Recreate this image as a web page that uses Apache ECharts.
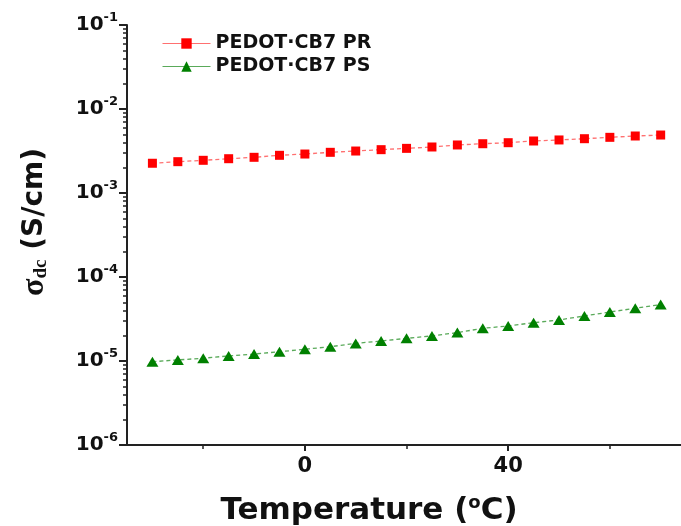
<!DOCTYPE html>
<html>
<head>
<meta charset="utf-8">
<script src="https://cdn.jsdelivr.net/npm/echarts@6/dist/echarts.min.js"></script>
<style>html,body{margin:0;padding:0;background:#fff;}#c{width:681px;height:526px;}</style>
</head>
<body>
<div id="c"></div>
<script>
const temperatures = [-30,-25,-20,-15,-10,-5,0,5,10,15,20,25,30,35,40,45,50,55,60,65,70];
const prValues = [2.26e-3,2.36e-3,2.45e-3,2.56e-3,2.66e-3,2.81e-3,2.91e-3,3.05e-3,3.16e-3,3.28e-3,3.40e-3,3.53e-3,3.73e-3,3.86e-3,3.97e-3,4.16e-3,4.28e-3,4.43e-3,4.60e-3,4.77e-3,4.90e-3];
const psValues = [9.8e-6,1.03e-5,1.08e-5,1.15e-5,1.21e-5,1.29e-5,1.38e-5,1.48e-5,1.62e-5,1.73e-5,1.86e-5,1.99e-5,2.18e-5,2.45e-5,2.61e-5,2.86e-5,3.08e-5,3.44e-5,3.83e-5,4.24e-5,4.70e-5];
const seriesNames = ['PEDOT·CB7 PR','PEDOT·CB7 PS'];
const xMajorTicks = [0,40];
const xMinorTicks = [-20,20,60];
const yMinorTicks = [];
for (let e = -6; e < -1; e++) { for (let m = 2; m <= 9; m++) yMinorTicks.push(m * Math.pow(10, e)); }

const font = 'DejaVu Sans';
const chart = echarts.init(document.getElementById('c'), null, {renderer:'canvas'});
const pair = (a) => temperatures.map((t,i) => [t, a[i]]);
chart.setOption({
  animation: false,
  backgroundColor: '#fff',
  grid: {left: 127, right: 0, top: 25, bottom: 81, containLabel: false, outerBoundsMode: 'none'},
  legend: {
    orient: 'vertical', left: 157, top: 29, itemWidth: 48, itemHeight: 13, itemGap: 4,
    textStyle: {fontFamily: font, fontWeight: 'bold', fontSize: 19, color: '#111'},
    lineStyle: {type: 'solid', width: 1},
    data: seriesNames
  },
  xAxis: [{
    type: 'value', min: -35, max: 74,
    axisLine: {show: true, onZero: false, lineStyle: {color: '#222', width: 2}},
    axisTick: {show: true, customValues: xMajorTicks, length: 6, lineStyle: {width: 2, color: '#222'}},
    axisLabel: {customValues: xMajorTicks, margin: 11, fontFamily: font, fontWeight: 'bold', fontSize: 21, color: '#111'},
    splitLine: {show: false},
    name: 'Temperature ({s|o}C)', nameLocation: 'middle', nameGap: 49,
    nameTextStyle: {fontFamily: font, fontWeight: 'bold', fontSize: 31, color: '#111', padding: [0, 70, 0, 0],
      rich: {s: {fontFamily: font, fontSize: 18, fontWeight: 'bold', color: '#111', padding: [0, 0, 16, 0]}}}
  }, {
    type: 'value', min: -35, max: 74, position: 'bottom',
    axisLine: {show: false, onZero: false},
    axisTick: {show: true, customValues: xMinorTicks, length: 4, lineStyle: {width: 1.5, color: '#222'}},
    axisLabel: {show: false}, splitLine: {show: false}
  }],
  yAxis: [{
    type: 'log', logBase: 10, min: 1e-6, max: 1e-1, position: 'left',
    axisLine: {show: true, onZero: false, lineStyle: {color: '#222', width: 2}},
    axisTick: {show: true, length: 8, lineStyle: {width: 2, color: '#222'}},
    axisLabel: {
      margin: 9,
      formatter: (v) => '{b|10}{s|' + Math.round(Math.log10(v)) + '}',
      rich: {
        b: {fontFamily: font, fontWeight: 'bold', fontSize: 20, color: '#111'},
        s: {fontFamily: font, fontWeight: 'bold', fontSize: 13, color: '#111', padding: [0, 0, 14, 0]}
      }
    },
    splitLine: {show: false},
    name: '{sig|σ}{sub|dc}{n| (S/cm)}', nameLocation: 'middle', nameRotate: 90, nameGap: 76,
    nameTextStyle: {padding: [0, 0, 0, 26],
      rich: {
        sig: {fontFamily: 'Liberation Serif', fontWeight: 'bold', fontSize: 32, color: '#111'},
        sub: {fontFamily: 'Liberation Serif', fontWeight: 'bold', fontSize: 19, color: '#111', padding: [12, 0, 0, 0]},
        n: {fontFamily: font, fontWeight: 'bold', fontSize: 28, color: '#111'}
      }}
  }, {
    type: 'log', logBase: 10, min: 1e-6, max: 1e-1, position: 'left',
    axisLine: {show: false, onZero: false},
    axisTick: {show: true, customValues: yMinorTicks, length: 4, lineStyle: {width: 1.5, color: '#222'}},
    axisLabel: {show: false}, splitLine: {show: false}
  }],
  series: [{
    name: seriesNames[0], type: 'line', xAxisIndex: 0, yAxisIndex: 0,
    data: pair(prValues), symbol: 'rect', symbolSize: 9,
    itemStyle: {color: '#ff0000'},
    lineStyle: {color: '#ff7070', width: 1.3, type: [4, 3]}
  }, {
    name: seriesNames[1], type: 'line', xAxisIndex: 0, yAxisIndex: 0,
    data: pair(psValues), symbol: 'triangle', symbolSize: [12, 10],
    itemStyle: {color: '#008000'},
    lineStyle: {color: '#5aaa5a', width: 1.3, type: [4, 3]}
  }]
});
</script>
</body>
</html>
